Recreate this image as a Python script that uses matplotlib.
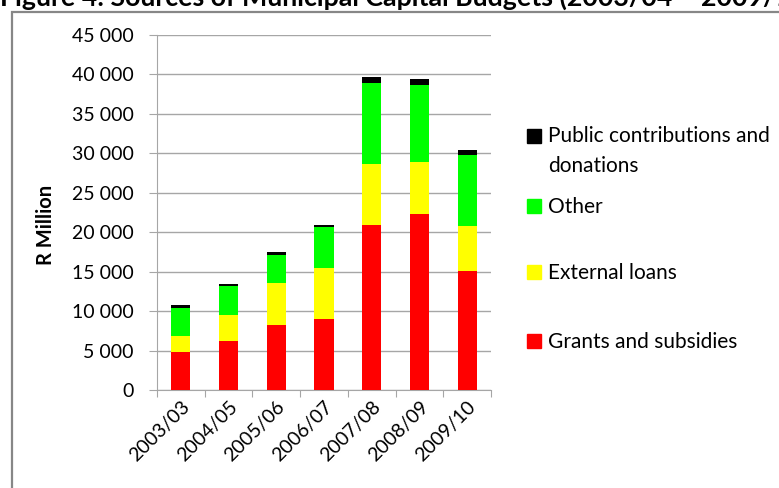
import matplotlib
matplotlib.use("Agg")
from matplotlib import pyplot as plt
from matplotlib.patches import Rectangle, Patch
import numpy as np

years = ['2003/03', '2004/05', '2005/06', '2006/07', '2007/08', '2008/09', '2009/10']
grants = [4800, 6200, 8300, 9000, 20900, 22300, 15100]
loans = [2000, 3300, 5300, 6500, 7700, 6600, 5700]
other = [3600, 3700, 3500, 5100, 10300, 9700, 9000]
public = [400, 200, 400, 300, 800, 800, 600]

W, H = 779, 488
fig = plt.figure(figsize=(W / 100, H / 100), dpi=100)
plt.rcParams['font.family'] = ['Lato', 'DejaVu Sans']

# title is cut off by the top edge in the original page grab
fig.text(0, 1 - 5.5 / H, 'Figure 4: Sources of Municipal Capital Budgets (2003/04 \u2013 2009/10)',
         fontsize=19.3, fontweight='bold', va='baseline', ha='left')
fig.add_artist(Rectangle((12 / W, -0.1), 1.2, 1 - 12 / H + 0.1, transform=fig.transFigure,
                         fill=False, edgecolor='#878787', linewidth=1.6))

ax = fig.add_axes([157 / W, 98 / H, (491 - 157) / W, (390 - 35) / H])
x = np.arange(len(years))
bw = 0.4
b1 = np.array(grants)
b2 = b1 + np.array(loans)
b3 = b2 + np.array(other)
ax.bar(x, grants, bw, color='#FF0000', zorder=3)
ax.bar(x, loans, bw, bottom=b1, color='#FFFF00', zorder=3)
ax.bar(x, other, bw, bottom=b2, color='#00FF00', zorder=3)
ax.bar(x, public, bw, bottom=b3, color='#000000', zorder=3)

ax.set_xlim(-0.5, len(years) - 0.5)
ax.set_ylim(0, 45000)
ax.set_yticks(np.arange(0, 45001, 5000))
ax.set_yticklabels([f'{v:,}'.replace(',', ' ') for v in range(0, 45001, 5000)], fontsize=14)
ax.yaxis.grid(True, color='#A6A6A6', linewidth=1, zorder=0)
ax.tick_params(axis='y', length=5.8, color='#A6A6A6', pad=11)
ax.set_xticks(np.arange(len(years) + 1) - 0.5)
ax.set_xticklabels([])
ax.set_xticks(x, minor=True)
ax.set_xticklabels(years, minor=True, rotation=45, ha='right', rotation_mode='anchor', fontsize=14)
ax.tick_params(axis='x', which='major', length=5, color='#A6A6A6')
ax.tick_params(axis='x', which='minor', length=0, pad=6)
for s in ['top', 'right']:
    ax.spines[s].set_visible(False)
for s in ['left', 'bottom']:
    ax.spines[s].set_color('#A6A6A6')
ax.set_ylabel('R Million', fontsize=14.5, fontweight='bold')
ax.yaxis.set_label_coords(-0.302, 0.465)

# legend entries placed one by one like the Excel legend
colors = ['#000000', '#00FF00', '#FFFF00', '#FF0000']
labels = ['Public contributions and\ndonations', 'Other', 'External loans', 'Grants and subsidies']
ys = [151, 207, 273, 342]
for c, lab, yy in zip(colors, labels, ys):
    leg = fig.legend([Patch(color=c)], [lab], loc='center left', bbox_to_anchor=(527 / W, 1 - yy / H),
                     frameon=False, fontsize=15, handlelength=0.65, handleheight=0.65,
                     handletextpad=0.35, borderpad=0, borderaxespad=0)
    if '\n' in lab:
        leg.get_texts()[0].set_linespacing(1.6)
        h = leg.legend_handles[0]
        h.set_y(h.get_y() + 11)

fig.savefig('out.png', dpi=100)
